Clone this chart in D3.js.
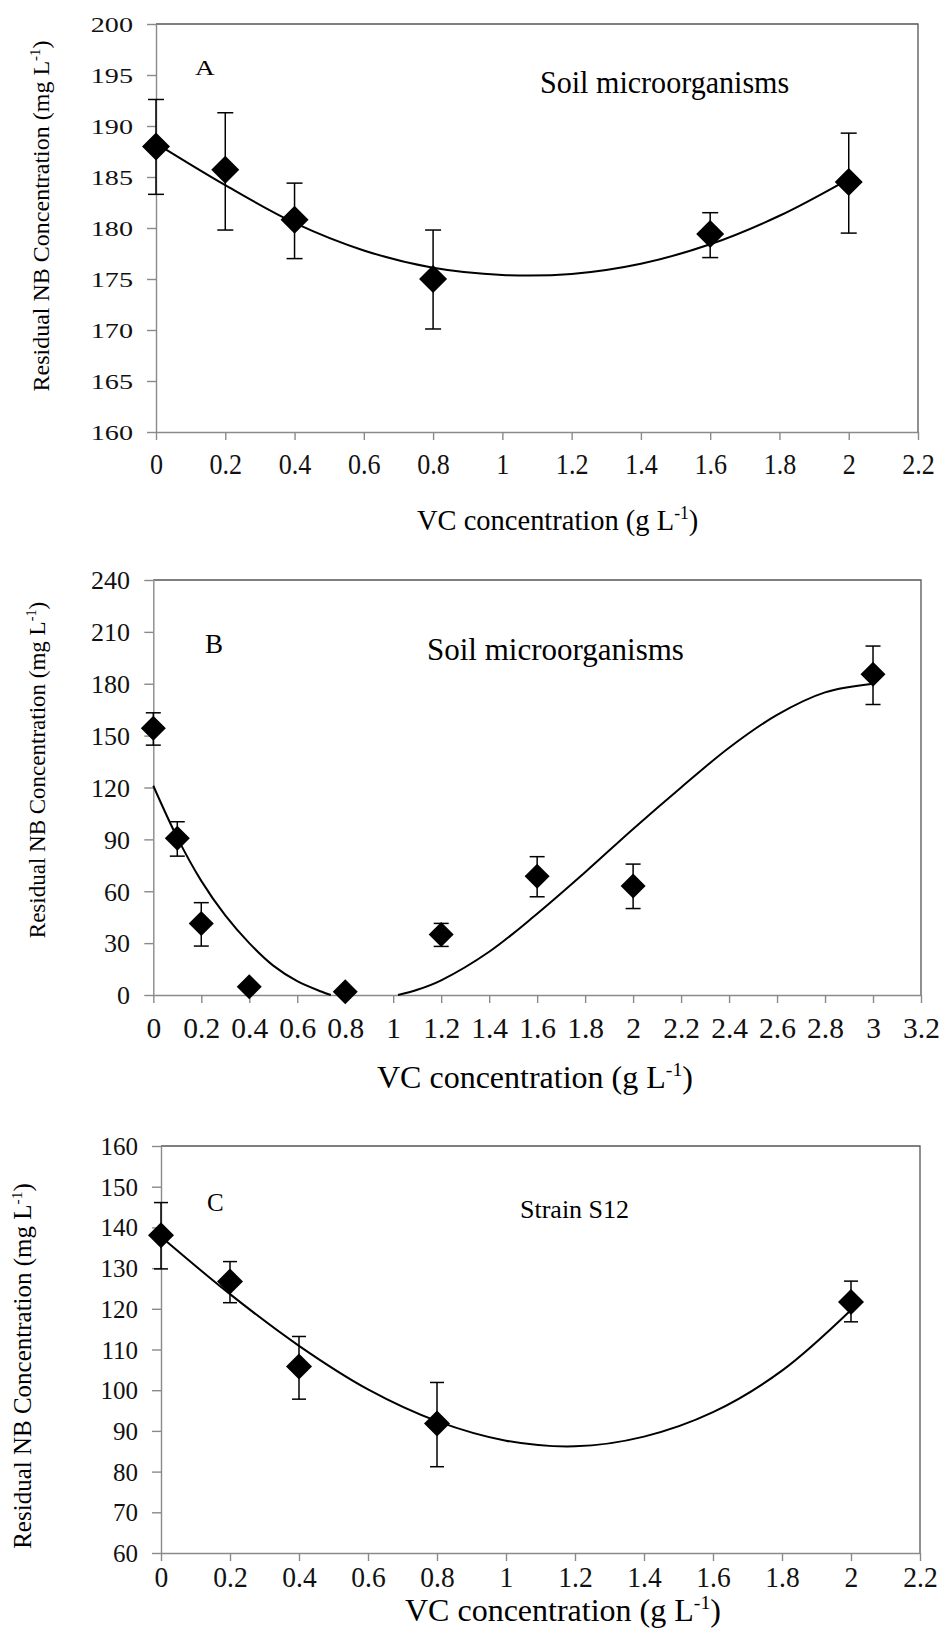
<!DOCTYPE html>
<html>
<head>
<meta charset="utf-8">
<script src="https://cdn.jsdelivr.net/npm/d3@7"></script>
<style>
html, body { margin: 0; padding: 0; background: #fff; }
svg { display: block; }
svg text { font-family: "Liberation Serif", "Times New Roman", Times, serif; }
</style>
</head>
<body>
<svg id="viz" width="942" height="1643"></svg>
<script>
"use strict";
// panel A: soil microorganisms, VC 0-2 g/L
const concA = [0, 0.2, 0.4, 0.8, 1.6, 2];
const residualA = [188.0, 185.7, 180.8, 175.0, 179.4, 184.5];
const errUpA = [192.6, 191.3, 184.4, 179.8, 181.5, 189.3];
const errLowA = [183.3, 179.8, 177.0, 170.1, 177.1, 179.5];
const fitXA = [0, 0.2, 0.4, 0.6, 0.8, 1.0, 1.2, 1.4, 1.6, 1.8, 2.0];
const fitYA = [188.3, 184.2, 180.5, 177.8, 176.1, 175.4, 175.5, 176.5, 178.4, 181.2, 184.8];
const xTicksA = [0, 0.2, 0.4, 0.6, 0.8, 1, 1.2, 1.4, 1.6, 1.8, 2, 2.2];
const yTicksA = [160, 165, 170, 175, 180, 185, 190, 195, 200];

// panel B: soil microorganisms, VC 0-3 g/L
const concB = [0, 0.1, 0.2, 0.4, 0.8, 1.2, 1.6, 2, 3];
const residualB = [154.2, 90.6, 41.4, 4.8, 1.9, 35.0, 68.7, 63.0, 185.5];
const errUpB = [163.2, 100.2, 53.4, null, null, 41.4, 80.0, 75.7, 201.8];
const errLowB = [144.5, 80.3, 28.3, null, null, 28.1, 56.8, 50.0, 168.0];
const fitXB = [0, 0.1, 0.2, 0.3, 0.4, 0.5, 0.6, 0.7, 0.74, 0.88, 1.02, 1.1, 1.2, 1.4, 1.6, 1.8, 2.0, 2.2, 2.4, 2.6, 2.8, 3.0];
const fitYB = [121, 91, 66, 46, 30, 17, 8, 2, 0, null, 0, 3, 8.5, 25, 47, 71, 96, 120, 143, 162, 175, 180];
const xTicksB = [0, 0.2, 0.4, 0.6, 0.8, 1, 1.2, 1.4, 1.6, 1.8, 2, 2.2, 2.4, 2.6, 2.8, 3, 3.2];
const yTicksB = [0, 30, 60, 90, 120, 150, 180, 210, 240];

// panel C: strain S12
const concC = [0, 0.2, 0.4, 0.8, 2];
const residualC = [138.1, 126.7, 105.8, 91.8, 121.7];
const errUpC = [146.1, 131.6, 113.2, 101.9, 126.8];
const errLowC = [129.8, 121.5, 97.8, 81.2, 116.8];
const fitXC = [0, 0.2, 0.4, 0.6, 0.8, 1.0, 1.2, 1.4, 1.6, 1.8, 2.0];
const fitYC = [137.7, 123.6, 110.9, 100.2, 92.4, 87.6, 86.2, 88.6, 94.6, 104.8, 119.7];
const xTicksC = [0, 0.2, 0.4, 0.6, 0.8, 1, 1.2, 1.4, 1.6, 1.8, 2, 2.2];
const yTicksC = [60, 70, 80, 90, 100, 110, 120, 130, 140, 150, 160];

const xTitle = "VC concentration (g L";
const yTitle = "Residual NB Concentration (mg L";
const serif = "'Liberation Serif', 'Times New Roman', Times, serif";
const axisGrey = "#8a8a8a", frameGrey = "#555";

const panels = [
  { label: "A", note: "Soil microorganisms", conc: concA, res: residualA, up: errUpA, low: errLowA,
    fitX: fitXA, fitY: fitYA, xTicks: xTicksA, yTicks: yTicksA,
    box: { l: 156, r: 918, t: 24, b: 432 },
    yFont: 22, ySx: 1.28, yLabelRight: 133,
    xFont: 29, xSx: 0.9, xLabelBase: 474,
    titleFont: 30, titleSx: 0.95, titleX: 417, titleBase: 530,
    yTitleFont: 24, yTitleX: 49, yTitleY: 216,
    labelFont: 21, labelSx: 1.3, labelX: 195, labelBase: 75,
    noteFont: 32, noteSx: 0.94, noteX: 540, noteBase: 93,
    mark: 14, cap: 8 },
  { label: "B", note: "Soil microorganisms", conc: concB, res: residualB, up: errUpB, low: errLowB,
    fitX: fitXB, fitY: fitYB, xTicks: xTicksB, yTicks: yTicksB,
    box: { l: 153.3, r: 921, t: 580, b: 995 },
    yFont: 26, ySx: 1, yLabelRight: 130,
    xFont: 29.5, xSx: 1, xLabelBase: 1038,
    titleFont: 32, titleSx: 1, titleX: 377, titleBase: 1088,
    yTitleFont: 23, yTitleX: 45, yTitleY: 770,
    labelFont: 27, labelSx: 1, labelX: 205, labelBase: 653,
    noteFont: 31, noteSx: 1, noteX: 427, noteBase: 660,
    mark: 12.5, cap: 7.5 },
  { label: "C", note: "Strain S12", conc: concC, res: residualC, up: errUpC, low: errLowC,
    fitX: fitXC, fitY: fitYC, xTicks: xTicksC, yTicks: yTicksC,
    box: { l: 161, r: 920, t: 1146, b: 1553 },
    yFont: 25, ySx: 1, yLabelRight: 138,
    xFont: 29, xSx: 0.95, xLabelBase: 1587,
    titleFont: 32, titleSx: 1, titleX: 405, titleBase: 1621,
    yTitleFont: 25, yTitleX: 31, yTitleY: 1366,
    labelFont: 25, labelSx: 1, labelX: 207, labelBase: 1211,
    noteFont: 26, noteSx: 1, noteX: 520, noteBase: 1218,
    mark: 13, cap: 7 }
];

const svg = d3.select("#viz");

function withUnit(text, base, fs) {
  text.append("tspan").text(base);
  text.append("tspan").attr("font-size", fs * 0.62).attr("dy", -fs * 0.38).text("-1");
  text.append("tspan").attr("dy", fs * 0.38).text(")");
}

function drawPanel(p) {
  let x = d3.scaleLinear().domain([p.xTicks[0], p.xTicks[p.xTicks.length - 1]]).range([p.box.l, p.box.r]);
  let y = d3.scaleLinear().domain([p.yTicks[0], p.yTicks[p.yTicks.length - 1]]).range([p.box.b, p.box.t]);
  let g = svg.append("g").attr("class", "panel").attr("font-family", serif);

  // top and right border of plot area
  g.append("path")
    .attr("d", `M${p.box.l},${p.box.t}H${p.box.r}V${p.box.b}`)
    .attr("fill", "none").attr("stroke", frameGrey).attr("stroke-width", 1.3);

  let xa = g.append("g")
    .attr("transform", `translate(0,${p.box.b})`)
    .call(d3.axisBottom(x).tickValues(p.xTicks).tickFormat(d => d).tickSize(8).tickSizeOuter(0));
  let ya = g.append("g")
    .attr("transform", `translate(${p.box.l},0)`)
    .call(d3.axisLeft(y).tickValues(p.yTicks).tickFormat(d => d).tickSize(9).tickSizeOuter(0));

  [xa, ya].forEach(a => {
    a.attr("font-family", serif).attr("font-size", null);
    a.select(".domain").attr("stroke", axisGrey).attr("stroke-width", 1.4);
    a.selectAll(".tick line").attr("stroke", axisGrey).attr("stroke-width", 1.4);
  });
  xa.selectAll(".tick text")
    .attr("fill", "#111").attr("font-family", serif).attr("font-size", p.xFont)
    .attr("y", p.xLabelBase - p.box.b).attr("dy", 0)
    .attr("transform", `scale(${p.xSx},1)`);
  ya.selectAll(".tick text")
    .attr("fill", "#111").attr("font-family", serif).attr("font-size", p.yFont)
    .attr("x", 0).attr("dy", "0.34em")
    .attr("transform", `translate(${p.yLabelRight - p.box.l},0) scale(${p.ySx},1)`);

  // axis titles
  let xt = g.append("text")
    .attr("font-family", serif).attr("font-size", p.titleFont)
    .attr("transform", `translate(${p.titleX},${p.titleBase}) scale(${p.titleSx},1)`);
  withUnit(xt, xTitle, p.titleFont);
  let yt = g.append("text")
    .attr("font-family", serif).attr("font-size", p.yTitleFont).attr("text-anchor", "middle")
    .attr("transform", `translate(${p.yTitleX},${p.yTitleY}) rotate(-90)`);
  withUnit(yt, yTitle, p.yTitleFont);

  g.append("text")
    .attr("font-family", serif).attr("font-size", p.labelFont)
    .attr("transform", `translate(${p.labelX},${p.labelBase}) scale(${p.labelSx},1)`)
    .text(p.label);
  g.append("text")
    .attr("font-family", serif).attr("font-size", p.noteFont)
    .attr("transform", `translate(${p.noteX},${p.noteBase}) scale(${p.noteSx},1)`)
    .text(p.note);

  // fitted trend line
  let pts = p.fitX.map((v, i) => [v, p.fitY[i]]);
  g.append("path")
    .datum(pts)
    .attr("fill", "none").attr("stroke", "#000").attr("stroke-width", 2)
    .attr("d", d3.line()
      .defined(d => d[1] !== null)
      .x(d => x(d[0])).y(d => y(d[1]))
      .curve(d3.curveCatmullRom.alpha(0.5)));

  // error bars
  let idx = d3.range(p.conc.length);
  let eb = g.selectAll(".err")
    .data(idx.filter(i => p.up[i] !== null))
    .join("g").attr("class", "err")
    .attr("stroke", "#000").attr("stroke-width", 1.5);
  eb.append("line")
    .attr("x1", i => x(p.conc[i])).attr("x2", i => x(p.conc[i]))
    .attr("y1", i => y(p.up[i])).attr("y2", i => y(p.low[i]));
  eb.append("line")
    .attr("x1", i => x(p.conc[i]) - p.cap).attr("x2", i => x(p.conc[i]) + p.cap)
    .attr("y1", i => y(p.up[i])).attr("y2", i => y(p.up[i]));
  eb.append("line")
    .attr("x1", i => x(p.conc[i]) - p.cap).attr("x2", i => x(p.conc[i]) + p.cap)
    .attr("y1", i => y(p.low[i])).attr("y2", i => y(p.low[i]));

  // diamond markers
  let side = p.mark * Math.SQRT2;
  g.selectAll(".pt")
    .data(idx)
    .join("path").attr("class", "pt")
    .attr("d", d3.symbol(d3.symbolSquare, side * side))
    .attr("fill", "#000")
    .attr("transform", i => `translate(${x(p.conc[i])},${y(p.res[i])}) rotate(45)`);
}

panels.forEach(drawPanel);
</script>
</body>
</html>
